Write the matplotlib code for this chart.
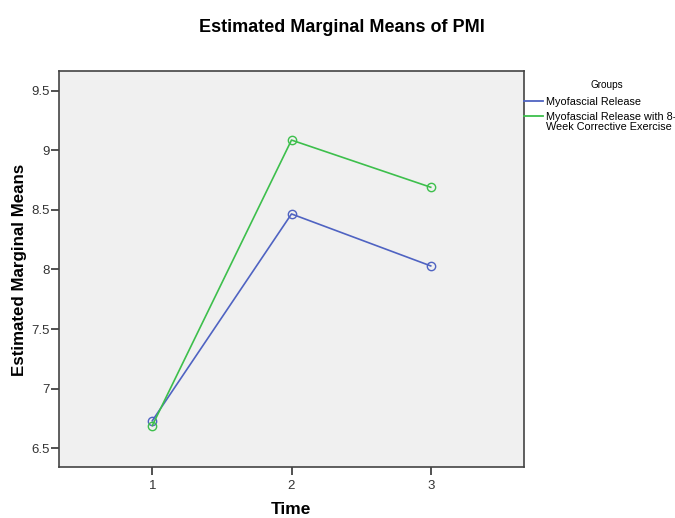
import matplotlib
matplotlib.use("Agg")
import matplotlib.pyplot as plt
from matplotlib.lines import Line2D

times = [1, 2, 3]
time_labels = ["1", "2", "3"]
groups = ["Myofascial Release", "Myofascial Release with 8-\nWeek Corrective Exercise"]
mr = [6.73, 8.466, 8.03]
mr_ce = [6.69, 9.086, 8.69]
yticks = [6.5, 7, 7.5, 8, 8.5, 9, 9.5]
ytick_labels = ["6.5", "7", "7.5", "8", "8.5", "9", "9.5"]

colors = ["#4f63c2", "#3dbf4c"]

plt.rcParams['font.family'] = ['Liberation Sans', 'DejaVu Sans']

fig = plt.figure(figsize=(6.75, 5.18), dpi=100)
ax = fig.add_axes([59/675, 1-467.3/518, (524-59)/675, (467.3-70.7)/518])
ax.set_facecolor("#f0f0f0")

for vals, c in zip([mr, mr_ce], colors):
    ax.plot(times, vals, color=c, lw=1.2, marker='o', markersize=6,
            markerfacecolor='none', markeredgecolor=c, markeredgewidth=1.0)

ax.set_xlim(0.33, 3.67)
ax.set_ylim(6.34, 9.668)
ax.set_xticks(times)
ax.set_xticklabels(time_labels)
ax.set_yticks(yticks)
ax.set_yticklabels(ytick_labels)
ax.tick_params(axis='both', labelsize=9.5, colors="#333333", length=5.5, width=1.2)
ax.tick_params(axis='y', pad=1.5)
for s in ax.spines.values():
    s.set_color("#444444")
    s.set_linewidth(1.2)

ax.set_xlabel("Time", fontsize=12.5, fontweight='bold')
ax.set_ylabel("Estimated Marginal Means", fontsize=12.2, fontweight='bold')
ax.xaxis.set_label_coords((291 - 59) / 465, (467.3 - 510) / 396.6)
ax.yaxis.set_label_coords((20 - 59) / 465, (467.3 - 270) / 396.6)
ax.xaxis.label.set_va('center')
ax.yaxis.label.set_va('center')
fig.text(342/675, 1-27/518, "Estimated Marginal Means of PMI", ha='center', va='center',
         fontsize=13, fontweight='bold')

# legend
fig.text(607/675, 1-85/518, "Groups", ha='center', va='center', fontsize=7.2)
leg_y = [101, 116]
for g, c, y in zip(groups, colors, leg_y):
    fig.add_artist(Line2D([524/675, 543/675], [1-y/518, 1-y/518], color=c, lw=1.3,
                          transform=fig.transFigure))
    for i, line in enumerate(g.split("\n")):
        fig.text(546/675, 1-(y + 9.5*i)/518, line, ha='left', va='center_baseline',
                 fontsize=7.8)

fig.savefig("out.png", dpi=100)
